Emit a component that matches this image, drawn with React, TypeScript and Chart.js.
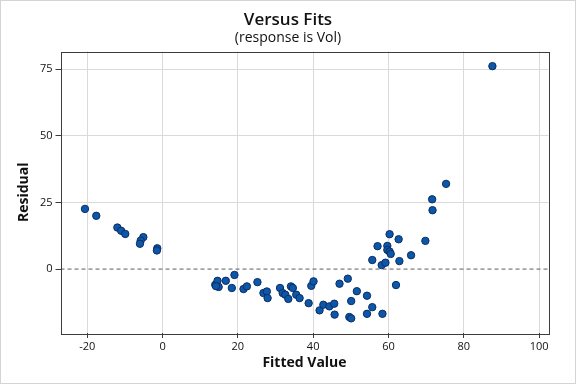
import React, { useEffect, useRef } from "react";
import { Chart, registerables } from "chart.js";

Chart.register(...registerables);

const fittedLeft: number[] = [-20.6, -17.6, -12.0, -11.0, -9.9, -5.1, -5.8, -6.0, -1.4, -1.5];
const residLeft: number[] = [22.6, 20.0, 15.6, 14.4, 13.2, 12.0, 10.7, 9.5, 7.8, 7.0];

const fittedMid: number[] = [14.0, 14.6, 14.9, 14.2, 16.8, 19.1, 18.4, 21.5, 22.4, 25.2, 26.8, 27.7, 27.9, 31.2, 31.9, 32.6, 33.4, 34.1, 34.6, 35.5, 36.4, 38.8, 39.5, 40.1, 41.7, 42.7, 44.3, 45.6, 45.7, 47.0, 49.2, 49.6, 50.1, 50.1, 51.6, 54.3, 54.3, 55.7, 58.4, 62.0];
const residMid: number[] = [-5.9, -4.4, -6.7, -6.4, -4.4, -2.2, -7.1, -7.5, -6.5, -4.9, -9.0, -8.4, -10.9, -7.1, -9.0, -9.6, -11.2, -6.5, -7.1, -9.6, -10.9, -12.8, -6.3, -4.6, -15.5, -13.4, -14.0, -13.0, -17.1, -5.5, -3.6, -18.0, -18.5, -12.0, -8.3, -10.0, -16.8, -14.3, -16.8, -6.0];

const fittedRight: number[] = [55.7, 58.2, 59.2, 62.9, 57.1, 59.7, 59.7, 60.3, 60.6, 60.3, 62.7, 66.0, 69.8, 71.6, 71.7, 75.3, 87.6];
const residRight: number[] = [3.4, 1.5, 2.4, 3.0, 8.6, 8.7, 7.2, 6.6, 5.7, 13.1, 11.2, 5.2, 10.6, 26.2, 22.1, 32.0, 76.2];

const fitted: number[] = [...fittedLeft, ...fittedMid, ...fittedRight];
const residuals: number[] = [...residLeft, ...residMid, ...residRight];

const xMin = -27.1;
const xMax = 102.5;
const yMin = -24;
const yMax = 81.7;
const xTickStep = 20;
const yTickStep = 25;
const referenceY = 0;

const FONT = "'Open Sans', 'DejaVu Sans', sans-serif";

const framePlugin = {
  id: "frame",
  afterDraw(chart: any) {
    const { ctx, chartArea } = chart;
    ctx.save();
    ctx.strokeStyle = "#3c3c3c";
    ctx.lineWidth = 1;
    ctx.strokeRect(
      Math.round(chartArea.left) + 0.5,
      Math.round(chartArea.top) + 0.5,
      Math.round(chartArea.right - chartArea.left),
      Math.round(chartArea.bottom - chartArea.top)
    );
    ctx.strokeStyle = "#d4d4d4";
    ctx.strokeRect(0.5, 0.5, chart.width - 1, chart.height - 1);
    ctx.restore();
  },
};

export default function App() {
  const ref = useRef<HTMLCanvasElement | null>(null);

  useEffect(() => {
    document.body.style.margin = "0";
    if (!ref.current) return;
    const points = fitted.map((x, i) => ({ x, y: residuals[i] }));
    const chart = new Chart(ref.current, {
      type: "scatter",
      data: {
        datasets: [
          {
            type: "line",
            data: [
              { x: xMin, y: referenceY },
              { x: xMax, y: referenceY },
            ],
            borderColor: "#5c5c5c",
            borderWidth: 1,
            borderDash: [4, 3],
            pointRadius: 0,
            fill: false,
            order: 2,
          } as any,
          {
            data: points,
            backgroundColor: "#0d57a8",
            borderColor: "#0a2d66",
            borderWidth: 1,
            pointRadius: 3.7,
            order: 1,
          },
        ],
      },
      plugins: [framePlugin],
      options: {
        responsive: false,
        animation: false,
        layout: { padding: { left: 0, right: 0, top: 0, bottom: 0 } },
        plugins: {
          legend: { display: false },
          tooltip: { enabled: false },
          title: {
            display: true,
            text: "Versus Fits",
            color: "#111",
            font: { family: FONT, size: 17, weight: "600", lineHeight: 1.2 },
            padding: { top: 10, bottom: 0 },
          },
          subtitle: {
            display: true,
            text: "(response is Vol)",
            color: "#111",
            font: { family: FONT, size: 14, lineHeight: 1.0 },
            padding: { top: 0.5, bottom: 6.6 },
          },
        },
        scales: {
          x: {
            type: "linear",
            min: xMin,
            max: xMax,
            ticks: {
              stepSize: xTickStep,
              includeBounds: false,
              color: "#111",
              font: { family: FONT, size: 11 },
              padding: 2,
            },
            grid: {
              color: "#dadada",
              tickColor: "#3c3c3c",
              tickLength: 5,
              drawTicks: true,
            },
            border: { display: false },
            title: {
              display: true,
              text: "Fitted Value",
              color: "#111",
              font: { family: FONT, size: 14, weight: "bold", lineHeight: 1.2 },
              padding: { top: 0, bottom: 13 },
            },
            afterFit: (s: any) => {
              s.height = 51;
            },
          },
          y: {
            type: "linear",
            position: "left",
            min: yMin,
            max: yMax,
            ticks: {
              stepSize: yTickStep,
              includeBounds: false,
              color: "#111",
              font: { family: FONT, size: 11 },
              padding: 3,
            },
            grid: {
              color: (c: any) => (c.tick && c.tick.value === 0 ? "rgba(0,0,0,0)" : "#dadada"),
              tickColor: "#3c3c3c",
              tickLength: 5,
            },
            border: { display: false },
            title: {
              display: true,
              text: "Residual",
              color: "#111",
              font: { family: FONT, size: 14, weight: "bold", lineHeight: 1.2 },
              padding: { top: 16, bottom: 0 },
            },
            afterFit: (s: any) => {
              s.width = 60.5;
            },
          },
          yR: {
            type: "linear",
            position: "right",
            display: true,
            ticks: { display: false },
            grid: { display: false, drawTicks: false },
            border: { display: false },
            title: { display: false },
            afterFit: (s: any) => {
              s.width = 27.5;
            },
          },
        },
      },
    });
    return () => chart.destroy();
  }, []);

  return (
    <div style={{ width: 576, height: 384 }}>
      <canvas ref={ref} width={576} height={384} style={{ display: "block" }} />
    </div>
  );
}
